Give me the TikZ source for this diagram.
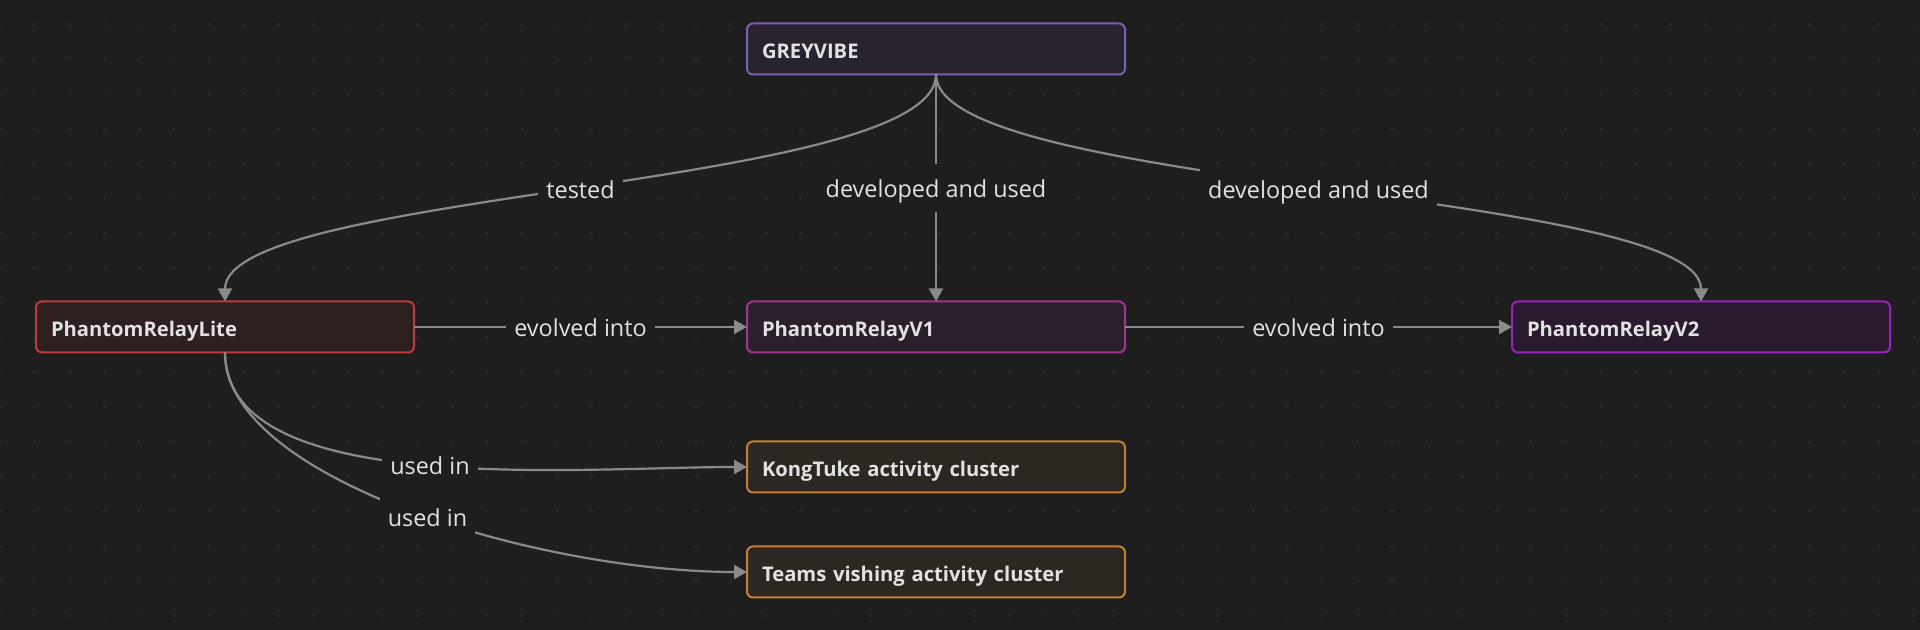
\documentclass[tikz,border=0pt]{standalone}
\usepackage{fontspec}
\setmainfont{Open Sans}
\usepackage{tikz}
\usetikzlibrary{positioning,arrows.meta}
\usepackage{xcolor}
\definecolor{canvas}{HTML}{1E1E1E}
\definecolor{griddot}{HTML}{343434}
\definecolor{wire}{HTML}{8A8A8A}
\definecolor{ink}{HTML}{E2E2E2}
\definecolor{actorline}{HTML}{7D5FB2}
\definecolor{actorfill}{HTML}{28232F}
\definecolor{liteline}{HTML}{C23A3C}
\definecolor{litefill}{HTML}{2E1F20}
\definecolor{voneline}{HTML}{A3338C}
\definecolor{vonefill}{HTML}{2A1F2A}
\definecolor{vtwoline}{HTML}{9C1FC0}
\definecolor{vtwofill}{HTML}{2A1A2F}
\definecolor{clusterline}{HTML}{C4802F}
\definecolor{clusterfill}{HTML}{2D2721}

\tikzset{
  entity/.style={draw, line width=1pt, rounded corners=3pt, outer sep=0pt,
    minimum height=25.5pt, text width=174pt, inner xsep=7.5pt, align=left,
    text height=9.2pt, text depth=0pt,
    text=ink, font=\fontsize{10.1}{12}\selectfont\bfseries},
  edgelabel/.style={fill=canvas, text=ink, font=\fontsize{11.7}{14}\selectfont,
    text height=11pt, text depth=1.6pt, inner xsep=4pt, inner ysep=5.5pt},
  link/.style={draw=wire, line width=1.1pt, -{Triangle[length=6.5pt,width=7pt]}},
}

\begin{document}
\begin{tikzpicture}
    \useasboundingbox (0,0) rectangle (960pt,315pt);
    \fill[canvas] (0,0) rectangle (960pt,315pt);
    % dotted canvas
    \foreach \i in {0,...,55}
      \foreach \j in {0,...,17}
        \fill[griddot] (\i*17.4pt, 302.85pt-\j*17.4pt) circle (0.6pt);

    \node[entity, draw=actorline, fill=actorfill] (greyvibe) at (468pt,290.5pt) {GREYVIBE};
    \node[entity, draw=voneline, fill=vonefill, below=113.5pt of greyvibe] (relayv1) {PhantomRelayV1};
    \node[entity, draw=liteline, fill=litefill, left=166.5pt of relayv1] (relaylite) {PhantomRelayLite};
    \node[entity, draw=vtwoline, fill=vtwofill, right=193.5pt of relayv1] (relayv2) {PhantomRelayV2};
    \node[entity, draw=clusterline, fill=clusterfill, below=44.5pt of relayv1] (kongtuke) {KongTuke activity cluster};
    \node[entity, draw=clusterline, fill=clusterfill, below=27pt of kongtuke] (teams) {Teams vishing activity cluster};

    \draw[link] (greyvibe.south) .. controls +(0,-57.5pt) and +(0,56pt) .. node[edgelabel] {tested} (relaylite.north);
    \draw[link] (greyvibe) -- node[edgelabel] {developed and used} (relayv1);
    \draw[link] (greyvibe.south) .. controls +(0,-57.5pt) and +(0,56pt) .. node[edgelabel] {developed and used} (relayv2.north);
    \draw[link] (relaylite) -- node[edgelabel] {evolved into} (relayv1);
    \draw[link] (relayv1) -- node[edgelabel] {evolved into} (relayv2);
    \draw[link] (relaylite.south) .. controls +(0,-73.5pt) and +(-83.5pt,0) .. node[edgelabel, pos=0.51] {used in} (kongtuke.west);
    \draw[link] (relaylite.south) .. controls +(0,-63.5pt) and +(-103.5pt,0) .. node[edgelabel, pos=0.53] {used in} (teams.west);
\end{tikzpicture}
\end{document}
